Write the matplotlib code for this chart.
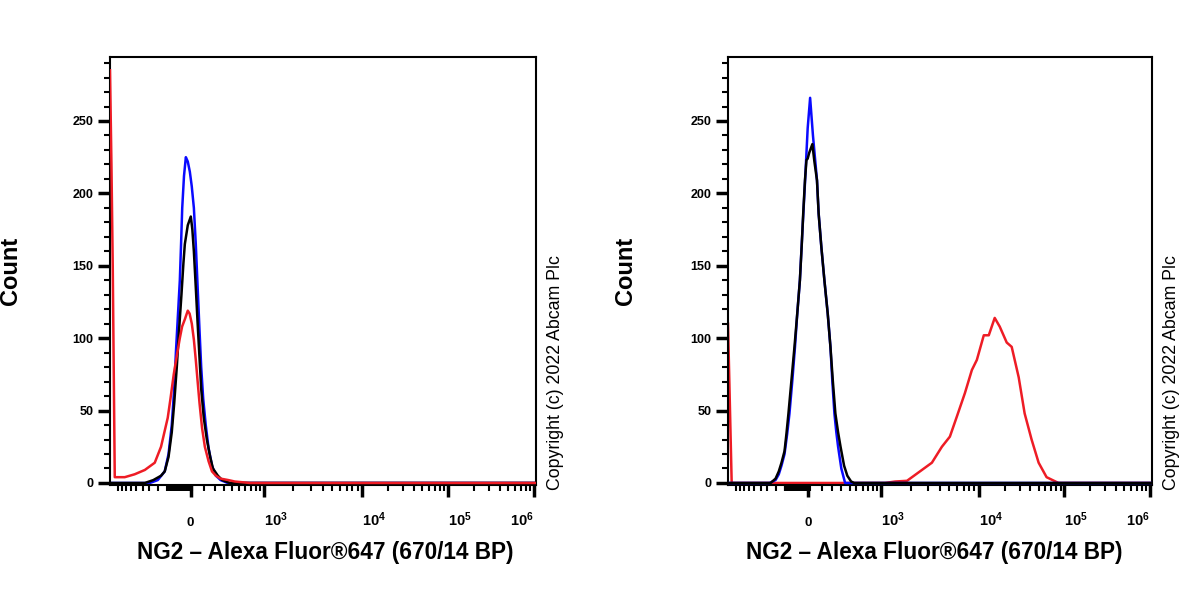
import numpy as np
import matplotlib
matplotlib.use("Agg")
import matplotlib.pyplot as plt
from matplotlib.ticker import FixedLocator, NullFormatter

plt.rcParams['font.family'] = ['Liberation Sans', 'DejaVu Sans']
plt.rcParams['mathtext.fontset'] = 'custom'
plt.rcParams['mathtext.rm'] = 'Liberation Sans:bold'
plt.rcParams['mathtext.it'] = 'Liberation Sans:bold'
plt.rcParams['mathtext.bf'] = 'Liberation Sans:bold'

# ---- data (fluorescence intensity, counts) ----
X_MIN, X_MAX = -1200, 1.05e6

left_blue_x = [X_MIN, -394, -300, -220, -180, -147, -125, -111, -95, -78, -68, -59, -46, -33,
               -20, -6.5, 6, 20, 33, 46, 60, 73, 90, 111, 135, 168, 210, 260, 342, X_MAX]
left_blue_y = [0, 0, 2, 8, 20, 40, 65, 90, 115, 140, 165, 190, 212, 225,
               222, 215, 205, 190, 165, 135, 105, 80, 58, 40, 24, 12, 5, 2, 0, 0]

left_black_x = [X_MIN, -466, -350, -260, -220, -180, -147, -125, -104, -85, -65, -50, -40, -20,
                0, 10, 20, 33, 46, 60, 73, 95, 120, 150, 178, 230, 279, 369, X_MAX]
left_black_y = [0, 0, 2, 5, 8, 18, 35, 55, 80, 105, 130, 152, 165, 178,
                184, 175, 160, 135, 110, 86, 65, 45, 30, 18, 10, 5, 2, 0, 0]

left_red_x = [X_MIN, -1160, -1125, -1073, -825, -627, -466, -333, -260, -189, -160, -129, -100,
              -78, -60, -40, -20, -8, 6.5, 20, 33, 46, 60, 80, 104, 135, 168, 210, 260, 350,
              437, 680, X_MAX]
left_red_y = [285, 220, 150, 4, 4, 6, 9, 14, 25, 45, 58, 75, 90,
              100, 108, 113, 119, 117, 110, 99, 85, 70, 55, 38, 25, 15, 8, 5, 3, 2,
              1, 0, 0]

right_blue_x = [X_MIN, -369, -300, -260, -230, -200, -170, -147, -120, -100, -80, -59, -40, -22,
                -5, 11, 30, 59, 72, 95, 120, 150, 178, 200, 220, 240, 260, 300, 342, X_MAX]
right_blue_y = [0, 0, 2, 6, 12, 20, 34, 48, 72, 94, 117, 140, 175, 209,
                245, 266, 240, 209, 186, 163, 140, 117, 94, 70, 48, 35, 25, 10, 0, 0]

right_black_x = [X_MIN, -356, -300, -260, -230, -200, -178, -157, -130, -104, -80, -59, -45, -35,
                 -23, -13, -5, 5, 26, 40, 59, 72, 95, 120, 150, 178, 205, 230, 260, 290,
                 330, 369, 420, 466, X_MAX]
right_black_y = [0, 0, 3, 8, 14, 22, 34, 48, 70, 94, 117, 140, 165, 186,
                 209, 223, 224, 228, 234, 222, 209, 186, 163, 140, 117, 94, 70, 48, 35, 25,
                 12, 5, 1, 0, 0]

right_red_x = [X_MIN, -1100, 1099, 1390, 1841, 2222, 3311, 4188, 5058, 5970, 7200, 8490, 9550,
               11430, 13070, 15330, 17540, 21170, 24200, 29200, 34270, 41300, 49900, 61800, 85100, X_MAX]
right_red_y = [110, 0, 0, 1, 1.5, 5.5, 14, 25, 32, 46, 62, 78, 85,
               102, 102, 114, 108, 97, 94, 73, 48, 30, 14, 4, 0, 0]

x_major = [0, 1e3, 1e4, 1e5, 1e6]
x_major_labels = [r'$0$', r'$10^{3}$', r'$10^{4}$', r'$10^{5}$', r'$10^{6}$']
y_major = [0, 50, 100, 150, 200, 250]

xlabel = 'NG2 – Alexa Fluor®647 (670/14 BP)'
copyright_text = 'Copyright (c) 2022 Abcam Plc'

# ---- biexponential-like display transform (FlowJo style axis) ----
KNOT_VALS = np.array([-1e7, -1e6, -1e5, -1e4, -1e3, -500, -300, -200, -100, 0,
                      100, 200, 300, 500, 1e3, 1e4, 1e5, 1e6, 1e7])
KNOT_U = np.array([-429, -343, -257, -171, -73, -48, -33, -24, -13.5, 0,
                   13.5, 24, 33, 48, 73, 171, 257, 343, 429])
KNOT_S = np.arcsinh(KNOT_VALS / 100)


def biex_fwd(x):
    return np.interp(np.arcsinh(np.asarray(x, dtype=float) / 100), KNOT_S, KNOT_U)


def biex_inv(u):
    return 100 * np.sinh(np.interp(np.asarray(u, dtype=float), KNOT_U, KNOT_S))


x_minor = (list(range(-1000, -200, 100)) + list(range(-200, 20, 10)) + list(range(100, 1000, 100))
           + [k * 1e3 for k in range(2, 10)] + [k * 1e4 for k in range(2, 10)]
           + [k * 1e5 for k in range(2, 10)])


def style_panel(ax):
    ax.set_xscale('function', functions=(biex_fwd, biex_inv))
    ax.set_xlim(X_MIN, X_MAX)
    ax.set_ylim(-1.4, 294.2)
    for sp in ax.spines.values():
        sp.set_linewidth(1.5)
    ax.xaxis.set_major_locator(FixedLocator(x_major))
    ax.xaxis.set_minor_locator(FixedLocator(x_minor))
    ax.xaxis.set_minor_formatter(NullFormatter())
    ax.set_xticklabels(x_major_labels, va='baseline', fontsize=10.5, fontweight='bold')
    labels = ax.get_xticklabels()
    labels[0].set_fontsize(9.5)
    for lbl in labels[1:4]:
        lbl.set_ha('left')
    labels[4].set_ha('right')
    ax.yaxis.set_major_locator(FixedLocator(y_major))
    ax.yaxis.set_minor_locator(FixedLocator(list(range(0, 300, 10))))
    ax.tick_params(axis='both', which='major', length=8.5, width=2.5, direction='out')
    ax.tick_params(axis='both', which='minor', length=4.5, width=1.5, direction='out')
    ax.tick_params(axis='x', which='major', pad=21)
    ax.tick_params(axis='y', which='major', pad=3.5, labelsize=9)
    for lbl in ax.get_yticklabels():
        lbl.set_fontweight('bold')


fig = plt.figure(figsize=(12, 6), dpi=100)
ax1 = fig.add_axes([110 / 1200, 115 / 600, 426 / 1200, 428 / 600])
ax2 = fig.add_axes([728 / 1200, 115 / 600, 424 / 1200, 428 / 600])

LW = 1.8
ax1.plot(left_blue_x, left_blue_y, color='#0a0aff', lw=LW, zorder=2)
ax1.plot(left_black_x, left_black_y, color='black', lw=LW, zorder=3)
ax1.plot(left_red_x, left_red_y, color='#ee1c25', lw=LW, zorder=4)

ax2.plot(right_red_x, right_red_y, color='#ee1c25', lw=LW, zorder=2)
ax2.plot(right_blue_x, right_blue_y, color='#0a0aff', lw=LW, zorder=3)
ax2.plot(right_black_x, right_black_y, color='black', lw=LW, zorder=4)

for ax in (ax1, ax2):
    style_panel(ax)

# axis titles and copyright
for cx in (10, 626):
    fig.text(cx / 1200, 1 - 271 / 600, 'Count', rotation=90, fontsize=17, fontweight='bold',
             ha='center', va='center')
for cx in (325, 934):
    fig.text(cx / 1200, 1 - 553 / 600, xlabel, fontsize=16.3, fontweight='bold',
             ha='center', va='center')
for cx in (555, 1171):
    fig.text(cx / 1200, 1 - 490 / 600, copyright_text, rotation=90, fontsize=12.8,
             ha='center', va='bottom')

fig.savefig('out.png', dpi=100)
